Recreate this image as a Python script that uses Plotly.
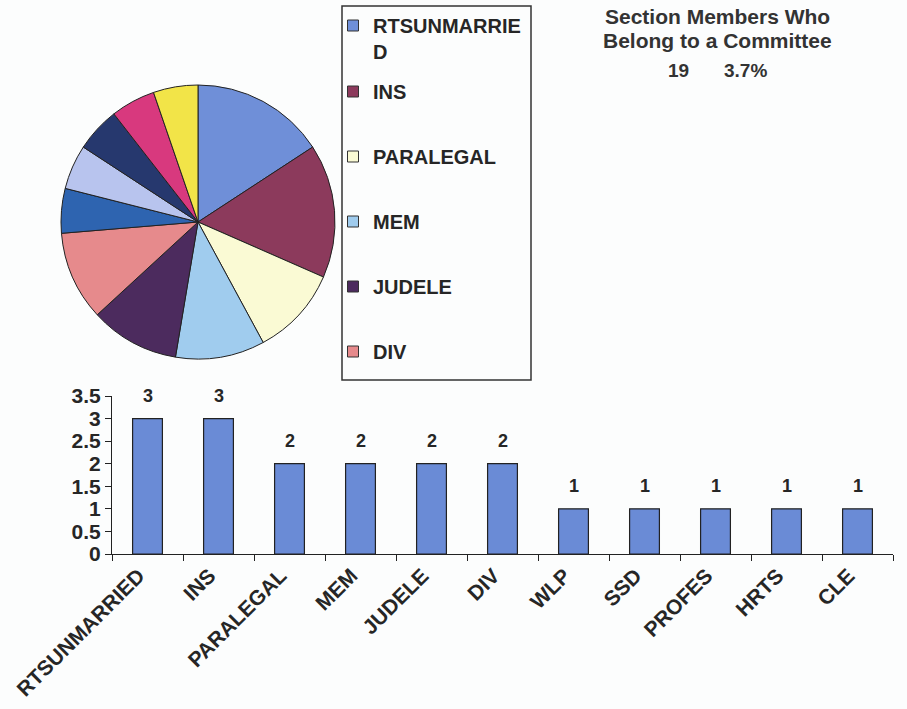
import plotly.graph_objects as go

categories = ["RTSUNMARRIED", "INS", "PARALEGAL", "MEM", "JUDELE", "DIV",
              "WLP", "SSD", "PROFES", "HRTS", "CLE"]
members = [3, 3, 2, 2, 2, 2, 1, 1, 1, 1, 1]
slice_colors = ["#6f8fd8", "#8c3a5c", "#fafad4", "#a0ccee", "#4c2b5e", "#e68a8c",
                "#2e64b0", "#b8c4ee", "#26386e", "#d8397e", "#f2e448"]
legend_count = 6
committee_pct = 3.7
title_lines = ["Section Members Who", "Belong to a Committee"]
y_ticks = [0, 0.5, 1, 1.5, 2, 2.5, 3, 3.5]

W, H = 907, 709
FONT = "Liberation Sans"
TXT = "#262626"
BG = "#fcfdfd"

def px_x(v):
    return v / W

def px_y(v):
    return 1 - v / H

fig = go.Figure()

fig.add_trace(go.Pie(
    labels=categories, values=members, sort=False, direction="clockwise",
    rotation=0, textinfo="none", hoverinfo="label+value",
    marker=dict(colors=slice_colors, line=dict(color="#222222", width=1)),
    domain=dict(x=[px_x(61), px_x(335)], y=[px_y(359), px_y(85)]),
    showlegend=False,
))

fig.add_trace(go.Bar(
    x=categories, y=members, marker=dict(color="#6a8bd6", line=dict(color="#222222", width=1.2)),
    width=0.42, showlegend=False, hoverinfo="x+y",
))

# legend entries (first six categories, as in the reference)
for i in range(legend_count):
    name = categories[i]
    if len(name) > 11:
        name = name[:11] + "<br>" + name[11:]
    fig.add_trace(go.Scatter(
        x=[None], y=[None], mode="markers", name=name, legendgroup=f"g{i}",
        legend="legend" if i == 0 else "legend2",
        marker=dict(symbol="square", size=11, color=slice_colors[i],
                    line=dict(color="#333333", width=1)),
    ))

annotations = []
for c, v in zip(categories, members):
    annotations.append(dict(x=c, y=v, xref="x", yref="y", text=str(v), showarrow=False,
                            yanchor="middle", yshift=23,
                            font=dict(family=FONT, size=18, color=TXT, weight="bold")))

for k, line in enumerate(title_lines):
    annotations.append(dict(x=px_x(717), y=px_y(17 + 23 * k), xref="paper", yref="paper",
                            text=line, showarrow=False,
                            xanchor="center", yanchor="middle",
                            font=dict(family=FONT, size=21, color="#333333", weight="bold")))
annotations.append(dict(x=px_x(678), y=px_y(71), xref="paper", yref="paper",
                        text=str(sum(members)), showarrow=False,
                        xanchor="center", yanchor="middle",
                        font=dict(family=FONT, size=19, color="#333333", weight="bold")))
annotations.append(dict(x=px_x(745), y=px_y(71), xref="paper", yref="paper",
                        text=f"{committee_pct}%", showarrow=False,
                        xanchor="center", yanchor="middle",
                        font=dict(family=FONT, size=19, color="#333333", weight="bold")))

legend_font = dict(family=FONT, size=20, color=TXT, weight="bold")

fig.update_layout(
    width=W, height=H, margin=dict(l=0, r=0, t=0, b=0, autoexpand=False),
    paper_bgcolor=BG, plot_bgcolor=BG,
    font=dict(family=FONT, color=TXT),
    annotations=annotations,
    shapes=[dict(type="rect", xref="paper", yref="paper",
                 x0=px_x(342), x1=px_x(531), y0=px_y(380), y1=px_y(6),
                 line=dict(color="#333333", width=1.5), fillcolor="rgba(0,0,0,0)")],
    legend=dict(x=px_x(333), y=px_y(6), xanchor="left", yanchor="top",
                borderwidth=0, bgcolor="rgba(0,0,0,0)", valign="top",
                itemwidth=30, font=legend_font),
    legend2=dict(x=px_x(333), y=px_y(72), xanchor="left", yanchor="top",
                 borderwidth=0, bgcolor="rgba(0,0,0,0)",
                 tracegroupgap=36, traceorder="grouped",
                 itemwidth=30, font=legend_font),
    xaxis=dict(domain=[px_x(112), px_x(893)], showline=True, linecolor="#222222", linewidth=1.2,
               ticks="outside", tickson="boundaries", ticklen=6, tickcolor="#222222",
               tickangle=-45, showgrid=False, zeroline=False, automargin=False,
               ticklabelshift=-9,
               tickfont=dict(family=FONT, size=21, color=TXT, weight="bold")),
    yaxis=dict(domain=[px_y(554), px_y(396)], range=[0, 3.5], tickvals=y_ticks,
               showline=True, linecolor="#222222", linewidth=1.2,
               ticks="outside", ticklen=6, tickcolor="#222222",
               showgrid=False, zeroline=False, automargin=False,
               tickfont=dict(family=FONT, size=21, color=TXT, weight="bold")),
)

fig.write_html("out.html", config={"displayModeBar": False},
               post_script="document.body.style.margin='0';document.body.style.overflow='hidden';")
